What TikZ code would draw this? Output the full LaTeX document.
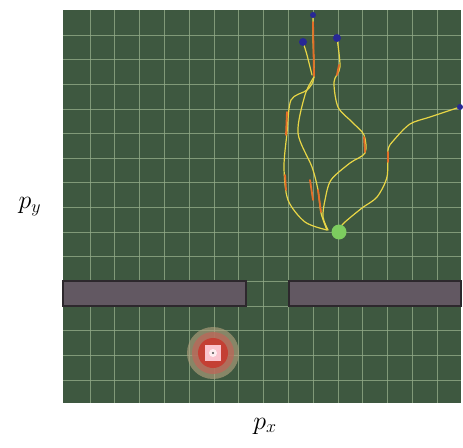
\documentclass[tikz,border=0pt]{standalone}
\usepackage{graphicx}
\usetikzlibrary{calc}
\definecolor{field}{RGB}{62,88,64}
\definecolor{gridc}{RGB}{145,170,135}
\definecolor{wallc}{RGB}{98,88,98}
\definecolor{wallb}{RGB}{45,40,45}
\definecolor{trajy}{RGB}{232,214,70}
\definecolor{trajo}{RGB}{228,110,40}
\definecolor{startc}{RGB}{40,40,150}
\definecolor{goalc}{RGB}{125,205,95}
\tikzset{
  traj/.style={trajy, line width=1.2pt, line join=round, line cap=round},
  trajhot/.style={trajo, line width=1.8pt, line cap=round},
  wall/.style={fill=wallc, draw=wallb, line width=1.2pt},
  startdot/.style={circle, fill=startc, inner sep=0pt, minimum size=#1},
  lbl/.style={font=\huge}
}
\begin{document}
\begin{tikzpicture}[x=1pt,y=-1pt]
\useasboundingbox (0,0) rectangle (463,447);
% field
\fill[field] (63,10) rectangle (461,403);
% grid
\foreach \k in {0,...,14} {
  \draw[gridc, line width=0.9pt, opacity=0.8] ({90+24.8*\k},10) -- ({90+24.8*\k},403);
  \draw[gridc, line width=0.9pt, opacity=0.8] (63,{35+24.65*\k}) -- (461,{35+24.65*\k});
}
% walls
\path[wall] (63,281) rectangle (246,306);
\path[wall] (289,281) rectangle (461,306);
% target
\coordinate (target) at (213,353);
\fill[color={rgb,255:red,175;green,160;blue,125}, opacity=0.65] (target) circle (26);
\fill[color={rgb,255:red,185;green,105;blue,90}, opacity=0.8] (target) circle (21);
\fill[color={rgb,255:red,200;green,55;blue,45}, opacity=0.85] (target) circle (15);
\fill[color={rgb,255:red,250;green,195;blue,205}] ($(target)+(-8,-8)$) rectangle ($(target)+(8,8)$);
\fill[white, opacity=0.7] (target) circle (4);
\fill[black!70] (target) circle (1.2);
% trajectories
\draw[traj] plot[smooth, tension=0.5] coordinates {(313,15) (313,40) (314,77) (307,90) (291,100) (287,133) (284,167) (288,200) (305,222) (327,230)};
\draw[traj] plot[smooth, tension=0.5] coordinates {(314,77) (305,95) (298,133) (312,167) (318,190) (321,213) (327,230)};
\draw[traj] plot[smooth, tension=0.5] coordinates {(337,38) (340,67) (334,82) (338,107) (352,122) (364,135) (365,153) (350,163) (331,180) (325,200) (323,217) (328,230)};
\draw[traj] plot[smooth, tension=0.5] coordinates {(460,107) (430,117) (410,124) (394,140) (388,150) (387,177) (377,197) (362,208) (345,222) (338,230)};
\draw[traj] plot[smooth, tension=0.5] coordinates {(303,42) (307,55) (312,75)};
% hot segments
\draw[trajhot] (313,22) -- (314,76);
\draw[trajhot] (287,112) -- (286,135);
\draw[trajhot] (318,190) -- (321,212);
\draw[trajhot] (364,137) -- (365,152);
\draw[trajhot] (339,65) -- (337,75);
\draw[trajhot] (310,180) -- (313,200);
\draw[trajhot] (388,152) -- (388,162);
\draw[trajhot] (285,175) -- (286,190);
% start dots
\node[startdot=6pt] (s1) at (313,15) {};
\node[startdot=8pt] (s2) at (303,42) {};
\node[startdot=8pt] (s3) at (337,38) {};
\node[startdot=6pt] (s4) at (460,107) {};
% goal
\node[circle, fill=goalc, inner sep=0pt, minimum size=15pt] (goal) at (339,232) {};
% labels
\node[lbl] (py) at (30,207) {\scalebox{1.25}{$p_y$}};
\node[lbl] (px) at (265,426) {\scalebox{1.25}{$p_x$}};
\end{tikzpicture}
\end{document}
